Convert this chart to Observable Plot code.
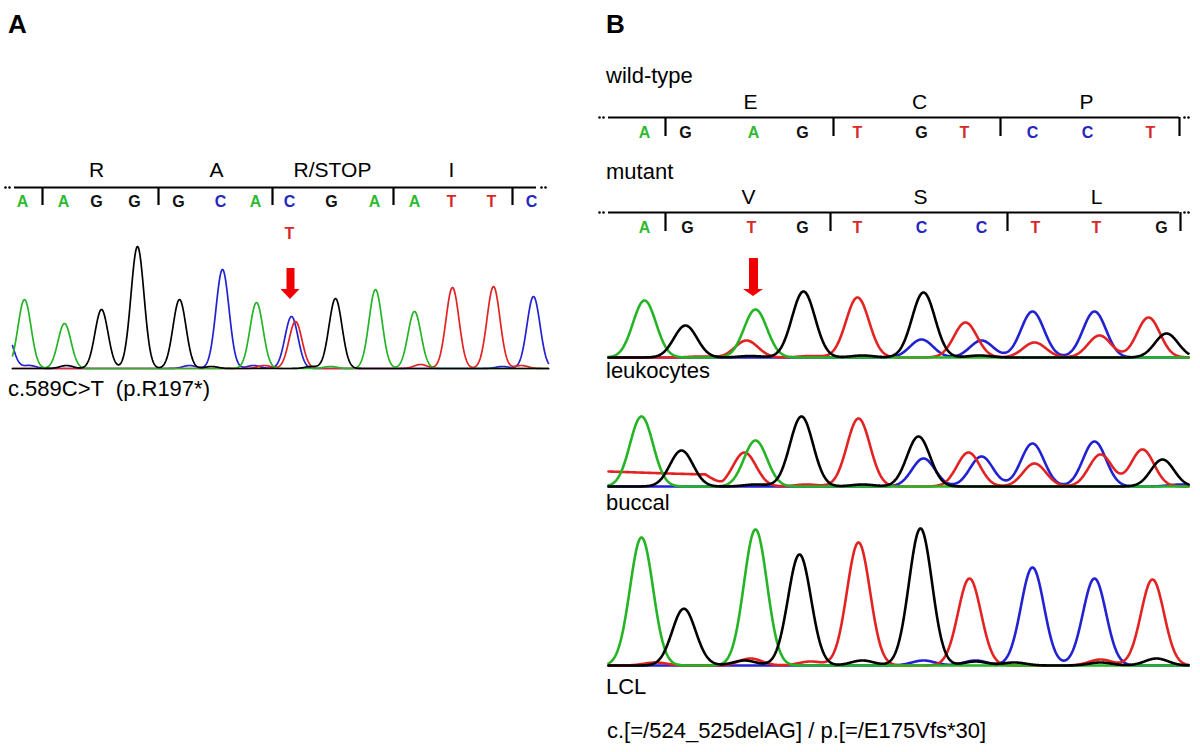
<!DOCTYPE html>
<html>
<head>
<meta charset="utf-8">
<script src="https://cdn.jsdelivr.net/npm/d3@7"></script>
<script src="https://cdn.jsdelivr.net/npm/@observablehq/plot@0.6"></script>
<style>
html,body{margin:0;padding:0;background:#fff;}
#root{position:relative;width:1200px;height:752px;overflow:hidden;background:#fff;font-family:"Liberation Sans",Arial,sans-serif;color:#000;}
#root .item{position:absolute;}
#root svg{overflow:visible;background:transparent;}
#root .lbl{position:absolute;white-space:pre;line-height:1;}
</style>
</head>
<body>
<div id="root"></div>
<script>
// ================= DATA =================
const panelLabels = ["A", "B"];
const captionA = "c.589C>T  (p.R197*)";
const captionB = "c.[=/524_525delAG] / p.[=/E175Vfs*30]";
const rowNames = ["wild-type", "mutant"];
const sampleNames = ["leukocytes", "buccal", "LCL"];

// Panel A: sequence header (scan position of each call)
const aAminoAcids = ["R", "A", "R/STOP", "I"];
const aAminoPos = [96, 216, 332, 451];
const aBases = ["A","A","G","G","G","C","A","C","G","A","A","T","T","C"];
const aBasePos = [22, 63, 96, 134, 178, 220, 255, 289, 331, 374, 414, 451, 491, 531];
const aCodonTicks = [42, 158, 272, 393, 512];
const aLineExtent = [14, 536];
const aAltBases = ["T"];
const aAltPos = [289];
const aArrowPos = [290];

// Panel A: chromatogram peaks (base channel, scan position, intensity)
const aPeakBase = ["A","A","G","G","G","C","A","C","T","G","A","A","T","T","C",
                   "C","C","G","C","G","C","T","G","T","C","T","A"];
const aPeakPos  = [24, 64, 101, 137, 179, 222, 256, 291, 295, 335, 375, 414, 452, 493, 533,
                   6, 29, 66, 189, 211, 253, 264, 311, 420, 502, 521, 330];
const aPeakHeight = [69, 45, 59, 122, 69, 99, 66, 52, 47, 70, 79, 57, 81, 82, 72,
                   35, 3, 3, 3, 2, 3, 3, 2, 4, 2, 3, 2];
const aTraceExtent = [12, 548];

// Panel B: wild-type and mutant sequence headers
const bWildAmino = ["E", "C", "P"];
const bWildAminoPos = [750, 919, 1086];
const bWildBases = ["A","G","A","G","T","G","T","C","C","T"];
const bWildBasePos = [644, 685, 753, 802, 857, 921, 964, 1032, 1087, 1150];
const bWildTicks = [665, 833, 1000, 1179];
const bMutAmino = ["V", "S", "L"];
const bMutAminoPos = [748, 920, 1096];
const bMutBases = ["A","G","T","G","T","C","C","T","T","G"];
const bMutBasePos = [644, 687, 751, 802, 857, 921, 981, 1035, 1096, 1161];
const bMutTicks = [665, 830, 1007, 1180];
const bLineExtent = [608, 1179];
const bArrowPos = [753];

// Panel B: leukocytes peaks
const leukPeakBase = ["A","G","T","A","G","T","G","C","T","C","C","T","C","T","T","G",
                      "G","T","G","G","T"];
const leukPeakPos  = [644, 685, 746, 755, 803, 857, 923, 921, 965, 981, 1032, 1034, 1094, 1099, 1148, 1166,
                      750, 700, 862, 979, 810];
const leukPeakHeight = [57, 32, 17, 48, 66, 60, 65, 18, 35, 17, 46, 15, 46, 22, 40, 24,
                      1.5, 1, 2, 2, 1.5];
// Panel B: buccal peaks
const bucPeakBase = ["A","G","T","A","G","T","G","C","T","C","C","T","C","T","T","G",
                     "G","T","G","C"];
const bucPeakPos  = [641, 681, 744, 755, 801, 858, 918, 923, 968, 981, 1032, 1034, 1094, 1100, 1142, 1162,
                     755, 806, 862, 1180];
const bucPeakHeight = [70, 36, 34, 46, 70, 68, 50, 28, 34, 30, 43, 23, 45, 32, 37, 27,
                     2, 2, 2, 2];
// buccal red-channel baseline drift (scan position, intensity)
const bucDriftPos = [608, 668, 705, 722];
const bucDriftValue = [15, 13, 12, 0];
// Panel B: LCL peaks
const lclPeakBase = ["A","G","A","G","T","G","T","C","C","T",
                     "T","G","G","T","G","C","C","G","G","T","G","G","T"];
const lclPeakPos  = [641, 683, 755, 799, 858, 920, 969, 1032, 1094, 1152,
                     750, 744, 695, 810, 862, 923, 975, 975, 1014, 1100, 1100, 1156, 655];
const lclPeakHeight = [128, 55, 136, 111, 123, 137, 87, 98, 87, 86,
                     7, 5, 3, 4, 5, 5, 5, 4, 3, 6, 3, 7, 3];
const bTraceExtent = [608, 1188];

// ================= STYLE =================
const traceColors = {A: "#25b425", C: "#2222d2", G: "#000000", T: "#e32222"};
const letterColors = {A: "#2fba2f", C: "#2626c0", G: "#111111", T: "#d82828"};
const arrowRed = "#f00000";
const drawOrder = ["C", "T", "A", "G"];
const FONT = "'Liberation Sans', Arial, sans-serif";

const root = document.getElementById("root");

function place(node, left, top) {
  const d = document.createElement("div");
  d.className = "item";
  d.style.left = left + "px";
  d.style.top = top + "px";
  d.append(node);
  root.append(d);
}

function label(text, left, baseline, size, bold) {
  const d = document.createElement("div");
  d.className = "lbl";
  d.textContent = text;
  d.style.left = left + "px";
  d.style.top = (baseline - 0.847 * size) + "px";
  d.style.font = `${bold ? "bold " : ""}${size}px/1 ${FONT}`;
  root.append(d);
}

function traceData(bases, pos, heights, sigma, extent, drift) {
  const out = [];
  for (const ch of drawOrder) {
    for (let x = extent[0]; x <= extent[1] + 1e-9; x += 0.5) {
      let v = 0;
      for (let i = 0; i < bases.length; i++) {
        if (bases[i] !== ch) continue;
        const d = x - pos[i];
        v += heights[i] * Math.exp(-d * d / (2 * sigma * sigma));
      }
      if (drift && drift.base === ch) v += drift.fn(x);
      out.push({x, v, ch});
    }
  }
  return out;
}

function tracePlot({bases, pos, heights, sigma, extent, drift, xDomain, width, h, mb, sw}) {
  const data = traceData(bases, pos, heights, sigma, extent, drift);
  return Plot.plot({
    width, height: h + mb,
    marginTop: 0, marginRight: 0, marginLeft: 0, marginBottom: mb,
    x: {domain: xDomain, axis: null},
    y: {domain: [0, h], axis: null},
    color: {domain: Object.keys(traceColors), range: Object.values(traceColors)},
    style: {background: "transparent", overflow: "visible"},
    marks: [
      Plot.line(data, {x: "x", y: "v", z: "ch", stroke: "ch", strokeWidth: sw,
                       strokeLinejoin: "round", strokeLinecap: "round"})
    ]
  });
}

function headerPlot({xDomain, width, top, height, rows, amino, aminoPos, bases, basePos, ticks, lineExtent, alt, altPos}) {
  const ell = [lineExtent[0] - 9, lineExtent[0] - 5, lineExtent[1] + 5, lineExtent[1] + 9];
  const baseData = bases.map((b, i) => ({b, x: basePos[i]}));
  const marks = [
    Plot.ruleY([rows.line], {x1: lineExtent[0], x2: lineExtent[1], stroke: "#000", strokeWidth: 2.2}),
    Plot.dot(ell, {x: d => d, y: rows.line, r: 1.3, fill: "#000", stroke: "none"}),
    Plot.ruleX(ticks, {x: d => d, y1: rows.line, y2: rows.tick, stroke: "#000", strokeWidth: 2.2}),
    Plot.text(amino, {x: (d, i) => aminoPos[i], y: rows.aa, text: d => d, fontSize: 21, fill: "#000"}),
    Plot.text(baseData, {x: "x", y: rows.base, text: "b", fill: d => letterColors[d.b], fontSize: 16, fontWeight: "bold"})
  ];
  if (alt) {
    const altData = alt.map((b, i) => ({b, x: altPos[i]}));
    marks.push(Plot.text(altData, {x: "x", y: rows.alt, text: "b", fill: d => letterColors[d.b], fontSize: 16, fontWeight: "bold"}));
  }
  return Plot.plot({
    width, height, margin: 0,
    x: {domain: xDomain, axis: null},
    y: {domain: [top, top + height], range: [0, height], axis: null},
    color: {type: "identity"},
    style: {background: "transparent", overflow: "visible", fontFamily: FONT},
    marks
  });
}

function arrowPlot({xDomain, width, top, height, pos, shaftTop, headTop, tip, shaftW, headW}) {
  const heads = [];
  for (const p of pos) {
    heads.push({x: p - headW / 2, y1: headTop, y2: headTop, k: p});
    heads.push({x: p, y1: headTop, y2: tip, k: p});
    heads.push({x: p + headW / 2, y1: headTop, y2: headTop, k: p});
  }
  return Plot.plot({
    width, height, margin: 0,
    x: {domain: xDomain, axis: null},
    y: {domain: [top, top + height], range: [0, height], axis: null},
    style: {background: "transparent", overflow: "visible"},
    marks: [
      Plot.ruleX(pos, {x: d => d, y1: shaftTop, y2: headTop + 1, stroke: arrowRed, strokeWidth: shaftW}),
      Plot.areaY(heads, {x: "x", y1: "y1", y2: "y2", z: "k", fill: arrowRed, curve: "linear"})
    ]
  });
}

// ================= PANEL A =================
label(panelLabels[0], 8, 33, 26, true);
place(headerPlot({
  xDomain: [0, 560], width: 560, top: 150, height: 95,
  rows: {aa: 170, line: 187, base: 201, tick: 205, alt: 233},
  amino: aAminoAcids, aminoPos: aAminoPos, bases: aBases, basePos: aBasePos,
  ticks: aCodonTicks, lineExtent: aLineExtent, alt: aAltBases, altPos: aAltPos
}), 0, 150);
place(arrowPlot({
  xDomain: [0, 560], width: 560, top: 255, height: 50, pos: aArrowPos,
  shaftTop: 268, headTop: 289, tip: 299, shaftW: 8, headW: 19
}), 0, 255);
place(tracePlot({
  bases: aPeakBase, pos: aPeakPos, heights: aPeakHeight, sigma: 6.5, extent: aTraceExtent,
  xDomain: [0, 560], width: 560, h: 140, mb: 4, sw: 1.7
}), 0, 368 - 140);
label(captionA, 8, 397, 22, false);

// ================= PANEL B =================
label(panelLabels[1], 606, 33, 26, true);
label(rowNames[0], 606, 84, 22, false);
place(headerPlot({
  xDomain: [590, 1200], width: 610, top: 88, height: 52,
  rows: {aa: 102, line: 117, base: 132, tick: 136},
  amino: bWildAmino, aminoPos: bWildAminoPos, bases: bWildBases, basePos: bWildBasePos,
  ticks: bWildTicks, lineExtent: bLineExtent
}), 590, 88);
label(rowNames[1], 606, 180, 22, false);
place(headerPlot({
  xDomain: [590, 1200], width: 610, top: 183, height: 52,
  rows: {aa: 197, line: 212, base: 227, tick: 231},
  amino: bMutAmino, aminoPos: bMutAminoPos, bases: bMutBases, basePos: bMutBasePos,
  ticks: bMutTicks, lineExtent: bLineExtent
}), 590, 183);
place(arrowPlot({
  xDomain: [590, 1200], width: 610, top: 250, height: 50, pos: bArrowPos,
  shaftTop: 258, headTop: 289, tip: 296, shaftW: 9, headW: 20
}), 590, 250);

place(tracePlot({
  bases: leukPeakBase, pos: leukPeakPos, heights: leukPeakHeight, sigma: 11.5, extent: bTraceExtent,
  xDomain: [590, 1200], width: 610, h: 80, mb: 4, sw: 2.6
}), 590, 357 - 80);
label(sampleNames[0], 606, 379, 22, false);

const bucDrift = d3.scaleLinear().domain(bucDriftPos).range(bucDriftValue).clamp(true);
place(tracePlot({
  bases: bucPeakBase, pos: bucPeakPos, heights: bucPeakHeight, sigma: 11.5, extent: bTraceExtent,
  drift: {base: "T", fn: x => (x <= bucDriftPos[bucDriftPos.length - 1] ? bucDrift(x) : 0)},
  xDomain: [590, 1200], width: 610, h: 90, mb: 4, sw: 2.6
}), 590, 486 - 90);
label(sampleNames[1], 606, 511, 22, false);

place(tracePlot({
  bases: lclPeakBase, pos: lclPeakPos, heights: lclPeakHeight, sigma: 11.5, extent: bTraceExtent,
  xDomain: [590, 1200], width: 610, h: 150, mb: 4, sw: 2.6
}), 590, 665 - 150);
label(sampleNames[2], 606, 695, 22, false);
label(captionB, 607, 739, 22, false);
</script>
</body>
</html>
